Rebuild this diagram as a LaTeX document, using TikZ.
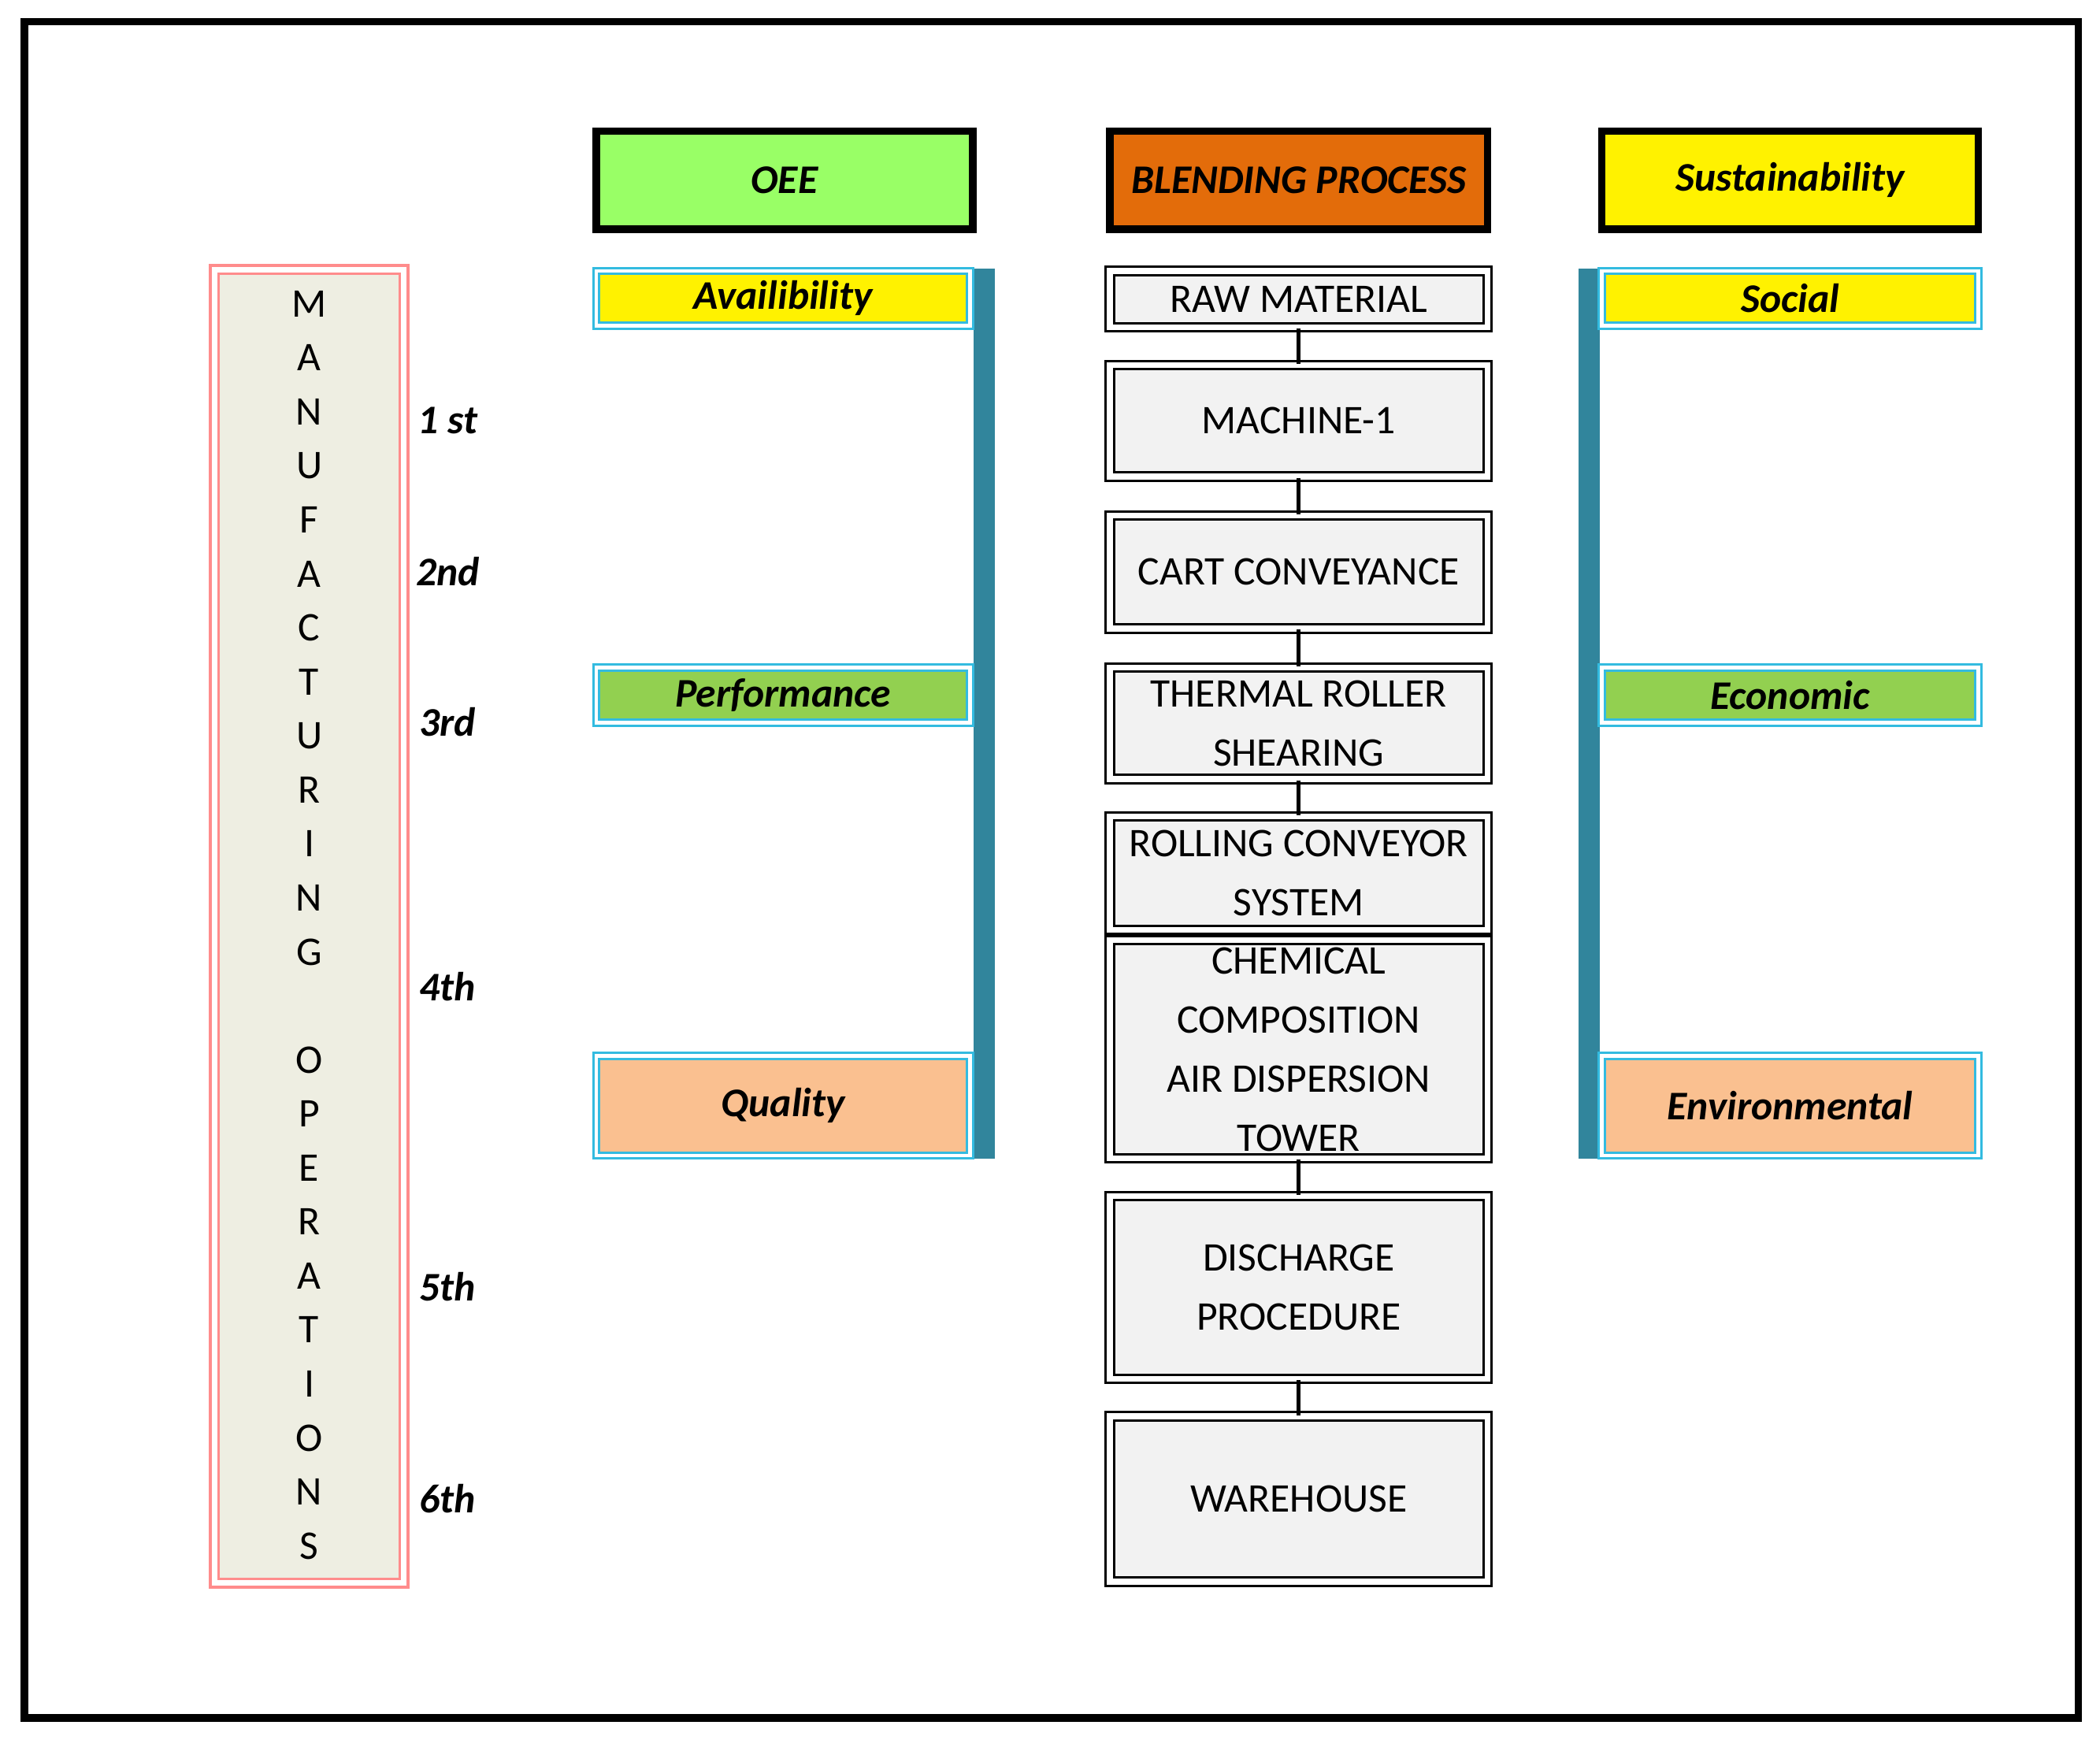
\documentclass[tikz,border=0pt]{standalone}
\usepackage{fontspec}
\setmainfont{Carlito}
\definecolor{hgreen}{HTML}{99FF66}
\definecolor{horange}{HTML}{E36C0A}
\definecolor{pgreen}{HTML}{92D050}
\definecolor{peach}{HTML}{FAC090}
\definecolor{barc}{HTML}{31859C}
\definecolor{beige}{HTML}{EEEEE2}
\definecolor{critb}{HTML}{33BBE0}
\newcommand\bx[7]{\node[#1,minimum width={(#5-#3-5)*0.01cm},minimum height={(#6-#4-5)*0.01cm}] (#2) at ({(#3+#5)/2},{(#4+#6)/2}) {#7};}
\begin{document}
\begin{tikzpicture}[x=0.01cm,y=-0.01cm,
  every node/.style={inner sep=0pt,font=\fontsize{8.6}{11}\selectfont,align=center},
  hdr/.style={draw=black,line width=1.6pt,font=\fontsize{8.6}{10}\selectfont\bfseries\itshape},
  proc/.style={draw=black,double=white,double distance=1.2pt,line width=0.5pt,fill=gray!10},
  crit/.style={draw=critb,double=white,double distance=0.8pt,line width=0.5pt,font=\fontsize{8.6}{10}\selectfont\bfseries\itshape},
  lvl/.style={font=\fontsize{8.6}{10}\selectfont\bfseries\itshape},
  bar/.style={fill=barc,draw=none},
  conn/.style={line width=0.8pt}]
\useasboundingbox (0,0) rectangle (1562,1294);
\draw[line width=1.6pt] (18,16) rectangle (1546,1278);
% left tall box
\bx{draw=red!45,double=white,double distance=1.2pt,line width=0.6pt,fill=beige}{mo}{157}{198}{303}{1180}{}
\foreach \c [count=\i from 0] in {M,A,N,U,F,A,C,T,U,R,I,N,G,,O,P,E,R,A,T,I,O,N,S}
  \node at (230,{226+\i*40.17}) {\c};
\node[lvl] (l1) at (333,313) {1 st};
\node[lvl] (l2) at (333,425) {2nd};
\node[lvl] (l3) at (333,537) {3rd};
\node[lvl] (l4) at (333,734) {4th};
\node[lvl] (l5) at (333,957) {5th};
\node[lvl] (l6) at (333,1115) {6th};
% headers
\bx{hdr,fill=hgreen}{oee}{441}{95}{726}{173}{OEE}
\bx{hdr,fill=horange}{bp}{823}{95}{1109}{173}{BLENDING PROCESS}
\bx{hdr,fill=yellow}{sus}{1189}{95}{1474}{173}{Sustainability}
% bars
\fill[bar] (724,200) rectangle (740,862);
\fill[bar] (1174,200) rectangle (1190,862);
% left criteria
\bx{crit,fill=yellow}{av}{441}{199}{724}{245}{Availibility}
\bx{crit,fill=pgreen}{pf}{441}{494}{724}{540}{Performance}
\bx{crit,fill=peach}{ql}{441}{783}{724}{862}{Quality}
% right criteria
\bx{crit,fill=yellow}{so}{1189}{199}{1474}{245}{Social}
\bx{crit,fill=pgreen}{ec}{1189}{494}{1474}{540}{Economic}
\bx{crit,fill=peach}{en}{1189}{783}{1474}{862}{Environmental}
% process
\bx{proc}{p1}{823}{199}{1109}{246}{RAW MATERIAL}
\bx{proc}{p2}{823}{269}{1109}{357}{MACHINE-1}
\bx{proc}{p3}{823}{381}{1109}{470}{CART CONVEYANCE}
\bx{proc}{p4}{823}{494}{1109}{582}{THERMAL ROLLER\\[1.5pt]SHEARING}
\bx{proc}{p5}{823}{605}{1109}{694}{ROLLING CONVEYOR\\[1.5pt]SYSTEM}
\bx{proc}{p6}{823}{697}{1109}{864}{CHEMICAL\\[1.5pt]COMPOSITION\\[1.5pt]AIR DISPERSION\\[1.5pt]TOWER}
\bx{proc}{p7}{823}{887}{1109}{1028}{DISCHARGE\\[1.5pt]PROCEDURE}
\bx{proc}{p8}{823}{1051}{1109}{1179}{WAREHOUSE}
\draw[conn] (p1) -- (p2);
\draw[conn] (p2) -- (p3);
\draw[conn] (p3) -- (p4);
\draw[conn] (p4) -- (p5);
\draw[conn] (p6) -- (p7);
\draw[conn] (p7) -- (p8);
\end{tikzpicture}
\end{document}
